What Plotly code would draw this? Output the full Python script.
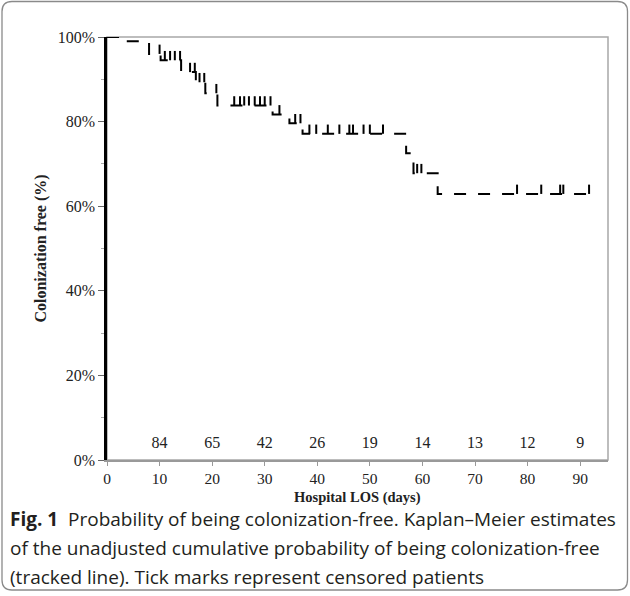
import numpy as np
import plotly.graph_objects as go

# Kaplan-Meier step curve (days, survival)
event_days = [0, 3.5, 8.0, 10.2, 14.1, 16.9, 18.7, 21.0, 31.5, 34.7, 37.2, 56.9, 58.3, 62.9, 93.0]
survival = [1.0, 0.99, 0.96, 0.945, 0.917, 0.893, 0.867, 0.838, 0.817, 0.796, 0.771, 0.725, 0.678, 0.629, 0.629]

# censored patients (days)
censor_days = [10.0, 11.0, 12.0, 12.9, 13.9, 15.8, 16.7, 17.6, 18.5, 20.8,
               24.2, 25.3, 26.1, 27.0, 28.1, 29.1, 30.0, 31.1, 32.8, 35.8, 36.8,
               38.5, 39.8, 42.0, 44.2, 46.1, 46.8, 48.8, 50.0, 52.5, 59.0, 59.8,
               78.0, 82.6, 86.2, 86.8, 91.7]

# number at risk
risk_days = [10, 20, 30, 40, 50, 60, 70, 80, 90]
at_risk = [84, 65, 42, 26, 19, 14, 13, 12, 9]

y_ticks = [0, 0.2, 0.4, 0.6, 0.8, 1.0]

caption_lines = [
    "<b>Fig. 1</b>  Probability of being colonization-free. Kaplan–Meier estimates",
    "of the unadjusted cumulative probability of being colonization-free",
    "(tracked line). Tick marks represent censored patients",
]

ed = np.array(event_days)
sv = np.array(survival)
cd = np.array(censor_days)
censor_level = sv[np.searchsorted(ed, cd, side="right") - 1]

SERIF = "Liberation Serif"
fig = go.Figure()

fig.add_trace(go.Scatter(
    x=event_days, y=survival, mode="lines", line_shape="hv",
    line=dict(color="black", width=2, dash="12px,12px"),
    hoverinfo="skip", showlegend=False,
))

fig.add_trace(go.Scatter(
    x=cd, y=censor_level, mode="markers",
    marker=dict(size=1, color="rgba(0,0,0,0)"),
    error_y=dict(type="data", symmetric=False, array=[0.022] * len(cd),
                 arrayminus=[0] * len(cd), width=0, thickness=2, color="black"),
    hoverinfo="skip", showlegend=False,
))

fig.add_trace(go.Scatter(
    x=risk_days, y=[0.038] * len(risk_days), mode="text",
    text=[str(v) for v in at_risk], textposition="middle center",
    textfont=dict(family=SERIF, size=16, color="#222"),
    hoverinfo="skip", showlegend=False,
))

L, R, T, B = 107, 22, 37, 136
W, H = 630, 596
pw, ph = W - L - R, H - T - B

def px(x):
    return (x - L) / pw

def py(y):
    return (H - B - y) / ph

shapes = [
    dict(type="rect", xref="paper", yref="paper", x0=0, x1=1, y0=0, y1=1,
         line=dict(color="#a8a8a8", width=1.5), layer="below"),
]
# rounded outer frame
x0, x1, y0, y1, r = px(2), px(627.5), py(590), py(1.5), 10
rx, ry = r / pw, r / ph
path = (f"M {x0 + rx},{y1} L {x1 - rx},{y1} Q {x1},{y1} {x1},{y1 - ry} "
        f"L {x1},{y0 + ry} Q {x1},{y0} {x1 - rx},{y0} L {x0 + rx},{y0} "
        f"Q {x0},{y0} {x0},{y0 + ry} L {x0},{y1 - ry} Q {x0},{y1} {x0 + rx},{y1} Z")
shapes.append(dict(type="path", xref="paper", yref="paper", path=path,
                   line=dict(color="#8a8a8a", width=1.3)))

annotations = [dict(
    xref="paper", yref="paper", x=0.5 * (px(107) + px(608)), y=py(497),
    xanchor="center", yanchor="middle", showarrow=False,
    text="<b>Hospital LOS (days)</b>",
    font=dict(family=SERIF, size=14.5, color="#222"),
)]
for i, line in enumerate(caption_lines):
    annotations.append(dict(
        xref="paper", yref="paper", x=px(8), y=py(519 + 29 * i),
        xanchor="left", yanchor="middle", showarrow=False, text=line,
        font=dict(family="Open Sans", size=19, color="#231f20"),
    ))

fig.update_layout(
    width=W, height=H,
    margin=dict(l=L, r=R, t=T, b=B, autoexpand=False),
    paper_bgcolor="white", plot_bgcolor="white",
    shapes=shapes, annotations=annotations,
    xaxis=dict(
        range=[0, 95.3], tickmode="array", tickvals=[0] + risk_days,
        ticks="outside", ticklen=4, tickcolor="#999", tickwidth=1.2,
        showline=True, linecolor="#999", linewidth=1.5,
        showgrid=False, zeroline=False, automargin=False,
        tickfont=dict(family=SERIF, size=15.5, color="#222"),
    ),
    yaxis=dict(
        range=[0, 1], tickmode="array", tickvals=y_ticks, tickformat=".0%",
        ticks="outside", ticklen=6, tickcolor="#666", tickwidth=1.2,
        minor=dict(dtick=0.1, ticks="outside", ticklen=3, tickcolor="#aaa"),
        showline=True, linecolor="black", linewidth=2.5,
        showgrid=False, zeroline=False, automargin=False,
        tickfont=dict(family=SERIF, size=16, color="#222"),
        title=dict(text="<b>Colonization free (%)</b>", standoff=8,
                   font=dict(family=SERIF, size=16, color="#222")),
    ),
)

fig.write_html("out.html", config={"displayModeBar": False},
               post_script="document.body.style.margin='0';document.body.style.overflow='hidden';")
